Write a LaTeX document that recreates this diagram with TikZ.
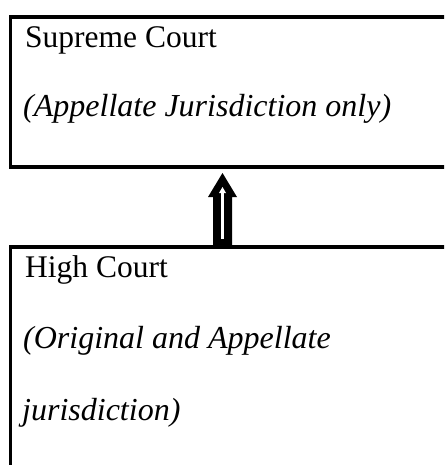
\documentclass[tikz,border=0pt]{standalone}
\usepackage{fontspec}
\setmainfont{Liberation Serif}
\usetikzlibrary{calc}
\begin{document}
\begin{tikzpicture}[x=1pt,y=-1pt,
  box/.style={draw, line width=3.5pt, rectangle, inner sep=0pt, outer sep=0pt, anchor=north west, minimum width=470pt, overlay},
  lbl/.style={anchor=base west, inner sep=0pt, font=\fontsize{31.5}{36}\selectfont},
  ilbl/.style={anchor=base west, inner sep=0pt, font=\fontsize{32}{36}\selectfont\itshape}]
\fill[white] (0,0) rectangle (444,465);
\useasboundingbox (0,0) rectangle (444,465);
% boxes (run off the right and bottom edges)
\begin{scope}[overlay]
\clip (0,0) rectangle (444,465);
\node[box, minimum height=150pt] (sc) at (10.5,17) {};
\node[box, minimum height=260pt] (hc) at (10.5,247) {};
\end{scope}
% texts
\node[lbl]  (sct) at (25,48)  {Supreme Court};
\node[ilbl] (scj) at (23,117) {(Appellate Jurisdiction only)};
\node[lbl]  (hct) at (25,277) {High Court};
\node[ilbl] (hcj1) at (23,348) {(Original and Appellate};
\node[ilbl] (hcj2) at (22,420) {jurisdiction)};
% connector: double-line block arrow from High Court up to Supreme Court
\path (hc.north west) ++(212,0) coordinate (abot);
\path (sc.south west) ++(212,6) coordinate (atip);
\fill[black] ($(abot)+(-9.5,0)$) -- ($(abot)+(-9.5,-50)$) -- ($(abot)+(-14.5,-50)$)
  -- (atip) -- ($(abot)+(14.5,-50)$) -- ($(abot)+(9.5,-50)$) -- ($(abot)+(9.5,0)$) -- cycle;
\draw[white, line width=3pt] ($(abot)+(0,-8)$) -- ($(atip)+(0,19)$);
\fill[white] ($(atip)+(0,14)$) -- ($(atip)+(-3.5,20)$) -- ($(atip)+(3.5,20)$) -- cycle;
\end{tikzpicture}
\end{document}
